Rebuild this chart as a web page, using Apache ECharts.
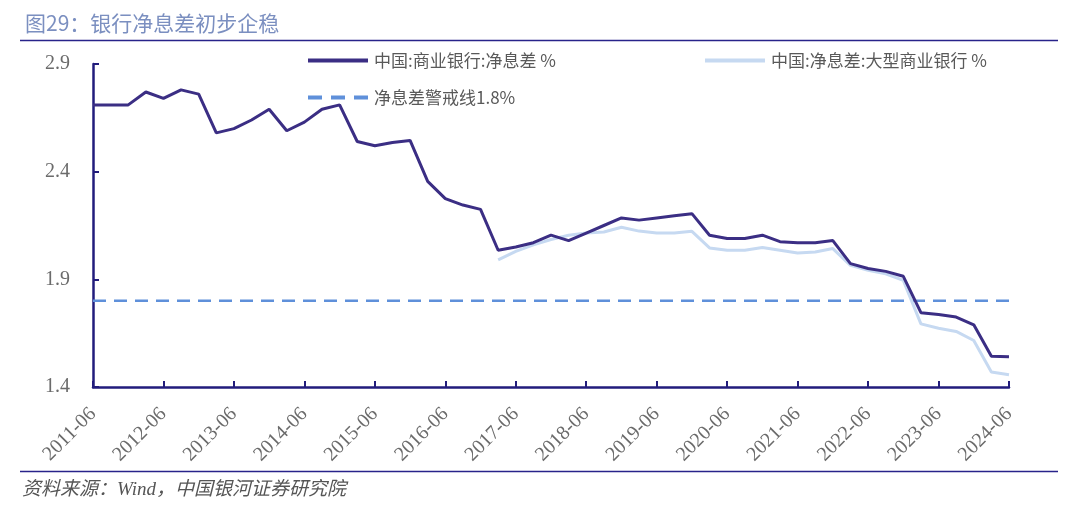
<!DOCTYPE html>
<html>
<head>
<meta charset="utf-8">
<script src="https://cdn.jsdelivr.net/npm/echarts@6/dist/echarts.min.js"></script>
<style>
html,body{margin:0;padding:0;background:#fff;}
#c{width:1080px;height:516px;}
</style>
</head>
<body>
<div id="c"></div>
<script>
var categories = [
 '2011-06','2011-09','2011-12',
 '2012-03','2012-06','2012-09','2012-12',
 '2013-03','2013-06','2013-09','2013-12',
 '2014-03','2014-06','2014-09','2014-12',
 '2015-03','2015-06','2015-09','2015-12',
 '2016-03','2016-06','2016-09','2016-12',
 '2017-03','2017-06','2017-09','2017-12',
 '2018-03','2018-06','2018-09','2018-12',
 '2019-03','2019-06','2019-09','2019-12',
 '2020-03','2020-06','2020-09','2020-12',
 '2021-03','2021-06','2021-09','2021-12',
 '2022-03','2022-06','2022-09','2022-12',
 '2023-03','2023-06','2023-09','2023-12',
 '2024-03','2024-06'
];
var nimAll = [
 2.71,2.71,2.71,
 2.77,2.74,2.78,2.76,
 2.58,2.60,2.64,2.69,
 2.59,2.63,2.69,2.71,
 2.54,2.52,2.535,2.545,
 2.355,2.275,2.245,2.225,
 2.035,2.05,2.07,2.105,
 2.08,2.115,2.15,2.185,
 2.175,2.185,2.195,2.205,
 2.105,2.09,2.09,2.105,
 2.075,2.07,2.07,2.08,
 1.973,1.95,1.937,1.914,
 1.745,1.737,1.725,1.689,
 1.543,1.54
];
var nimLarge = [
 null,null,null,
 null,null,null,null,
 null,null,null,null,
 null,null,null,null,
 null,null,null,null,
 null,null,null,null,
 1.99,2.03,2.06,2.085,
 2.105,2.115,2.12,2.142,
 2.124,2.115,2.115,2.123,
 2.046,2.035,2.035,2.048,
 2.035,2.022,2.027,2.043,
 1.965,1.942,1.926,1.895,
 1.693,1.673,1.658,1.616,
 1.47,1.457
];
var warnLevel = [
 1.8,1.8,1.8,
 1.8,1.8,1.8,1.8,
 1.8,1.8,1.8,1.8,
 1.8,1.8,1.8,1.8,
 1.8,1.8,1.8,1.8,
 1.8,1.8,1.8,1.8,
 1.8,1.8,1.8,1.8,
 1.8,1.8,1.8,1.8,
 1.8,1.8,1.8,1.8,
 1.8,1.8,1.8,1.8,
 1.8,1.8,1.8,1.8,
 1.8,1.8,1.8,1.8,
 1.8,1.8,1.8,1.8,
 1.8,1.8
];
var seriesNames = ['中国:商业银行:净息差 %','中国:净息差:大型商业银行 %','净息差警戒线1.8%'];
var titleText = '图29：银行净息差初步企稳';
var sourceText = '资料来源：Wind，中国银河证券研究院';

var chart = echarts.init(document.getElementById('c'), null, {renderer:'canvas'});
var axisColor = '#221c7c';
var legendText = {color:'#595959', fontSize:17, fontFamily:'Noto Sans CJK SC'};
var solidIcon = 'path://M0,0h60v4h-60z';
var dashIcon = 'path://M0,0h14v4h-14z M23,0h14v4h-14z M46,0h14v4h-14z';
var option = {
  animation:false,
  backgroundColor:'#fff',
  title:{
    text:titleText, left:20, top:8,
    textStyle:{color:'#7b8fc0', fontSize:21, fontWeight:'normal', fontFamily:'Noto Sans CJK SC'}
  },
  legend:[
    {data:[{name:seriesNames[0], icon:solidIcon}], left:303, top:47, itemWidth:62, itemHeight:4, itemGap:8, textStyle:legendText},
    {data:[{name:seriesNames[1], icon:solidIcon}], left:700, top:47, itemWidth:62, itemHeight:4, itemGap:8, textStyle:legendText},
    {data:[{name:seriesNames[2], icon:dashIcon}], left:303, top:84, itemWidth:62, itemHeight:4, itemGap:8, textStyle:legendText}
  ],
  grid:{left:93, right:71, top:64, bottom:129, containLabel:false},
  xAxis:{
    type:'category', data:categories, boundaryGap:false,
    axisLine:{lineStyle:{color:axisColor, width:2.5}},
    axisTick:{inside:true, length:6, interval:3, lineStyle:{color:axisColor, width:2}},
    axisLabel:{interval:3, rotate:45, margin:24, color:'#6b6b6b', fontSize:20, fontFamily:'Liberation Serif'},
    splitLine:{show:false}
  },
  yAxis:{
    type:'value', min:1.4, max:2.9, interval:0.5,
    axisLine:{show:true, lineStyle:{color:axisColor, width:2.5}},
    axisTick:{show:true, inside:true, length:6, lineStyle:{color:axisColor, width:2}},
    axisLabel:{margin:23, color:'#6b6b6b', fontSize:20, fontFamily:'Liberation Serif',
      formatter:function(v){return v.toFixed(1);}},
    splitLine:{show:false}
  },
  series:[
    {name:seriesNames[0], type:'line', data:nimAll, symbol:'none', z:4,
      lineStyle:{color:'#3b2e84', width:3}, itemStyle:{color:'#3b2e84'}},
    {name:seriesNames[1], type:'line', data:nimLarge, symbol:'none', z:3,
      lineStyle:{color:'#c6d9f1', width:3}, itemStyle:{color:'#c6d9f1'}},
    {name:seriesNames[2], type:'line', data:warnLevel, symbol:'none', z:2,
      lineStyle:{color:'#5f90da', width:2.5, type:[13,8]}, itemStyle:{color:'#5f90da'}}
  ],
  graphic:[
    {type:'line', shape:{x1:20, y1:40.5, x2:1058, y2:40.5}, style:{stroke:'#28238a', lineWidth:1.5}},
    {type:'line', shape:{x1:20, y1:471.5, x2:1058, y2:471.5}, style:{stroke:'#28238a', lineWidth:1.5}},
    {type:'text', left:22, top:480, style:{text:sourceText, fill:'#555', font:'italic 19px "Liberation Serif", "Noto Sans CJK SC"'}}
  ]
};
chart.setOption(option);
</script>
</body>
</html>
